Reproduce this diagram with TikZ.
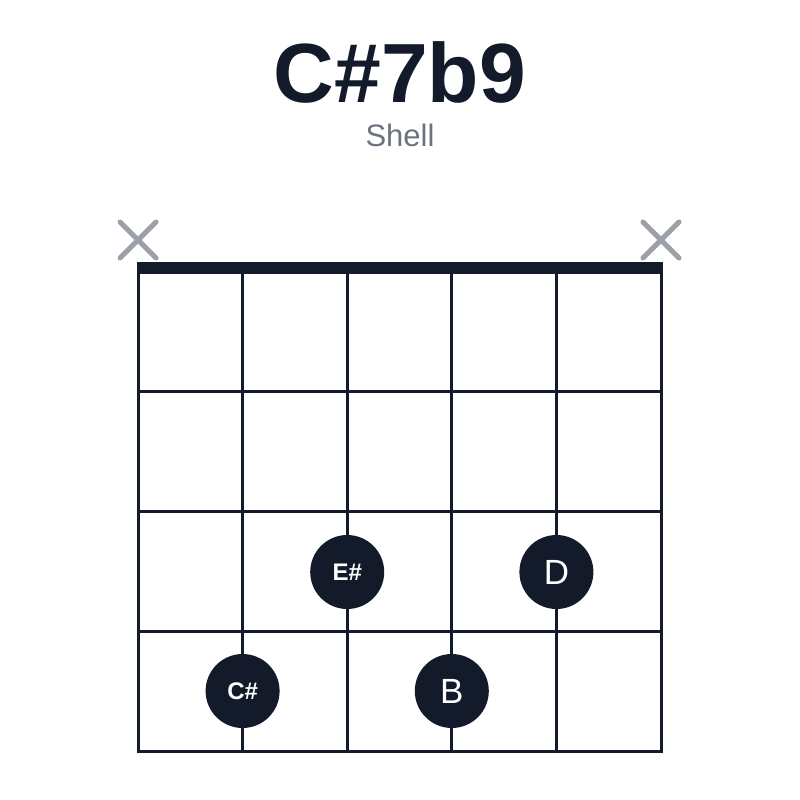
\documentclass[tikz,border=0pt]{standalone}
\usepackage{fontspec}
\setmainfont{Liberation Sans}
\definecolor{ink}{HTML}{131A2A}
\definecolor{mute}{HTML}{9CA0AA}
\definecolor{subgray}{HTML}{6B7280}
\tikzset{
  fret/.style={draw=ink, line width=3pt},
  finger/.style={circle, fill=ink, minimum size=74pt, inner sep=0pt, text=white},
  mutex/.style={draw=mute, line width=5pt, line cap=round},
}
\begin{document}
\begin{tikzpicture}[x=1pt,y=-1pt]
\useasboundingbox (0,0) rectangle (800,800);

\node[anchor=base, text=ink] (title) at (400,102) {\fontsize{84}{84}\selectfont\bfseries C\#7b9};
\node[anchor=base, text=subgray] (subtitle) at (400,146) {\fontsize{31}{31}\selectfont Shell};

% strings and frets
\foreach \s in {0,...,5}
  \draw[fret] (138+104.6*\s,268) -- (138+104.6*\s,751);
\foreach \f in {391,511,631,751}
  \draw[fret] (136.5,\f) -- (662.5,\f);
\fill[ink] (136.5,262) rectangle (662.5,274);

% muted strings
\draw[mutex] (120,222) -- (156,258) (120,258) -- (156,222);
\draw[mutex] (643,222) -- (679,258) (643,258) -- (679,222);

\node[finger] (Es) at (347.2,572) {\fontsize{24}{24}\selectfont\bfseries E\#};
\node[finger] (D) at (556.4,572) {\fontsize{35}{35}\selectfont D};
\node[finger] (Cs) at (242.6,691) {\fontsize{24}{24}\selectfont\bfseries C\#};
\node[finger] (B) at (451.8,691) {\fontsize{35}{35}\selectfont B};

\end{tikzpicture}
\end{document}
